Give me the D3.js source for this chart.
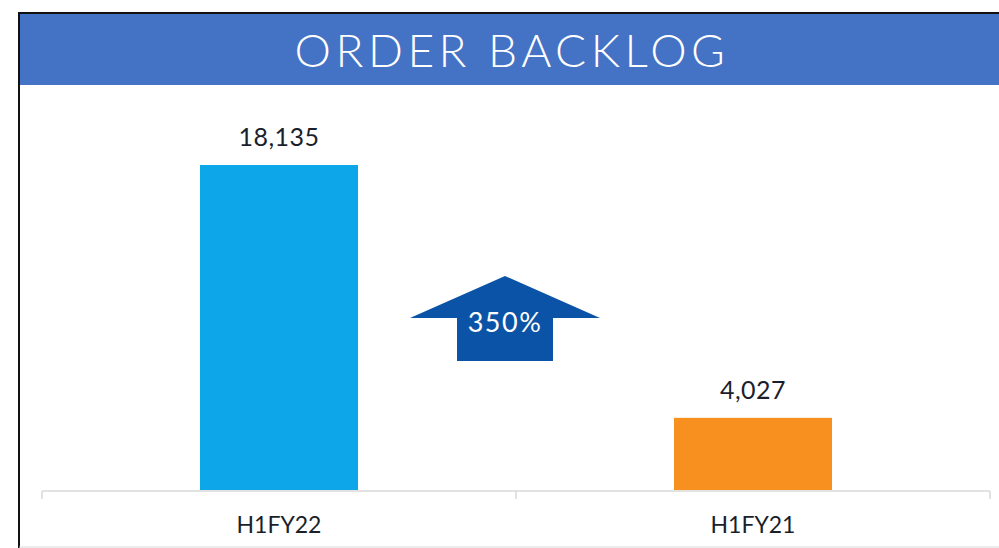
<!DOCTYPE html>
<html>
<head>
<meta charset="utf-8">
<script src="https://cdn.jsdelivr.net/npm/d3@7"></script>
<style>
  html, body { margin: 0; padding: 0; background: #fff; }
  svg { display: block; }
</style>
</head>
<body>
<div id="chart"></div>
<script>
// chart data
const categories = ["H1FY22", "H1FY21"];
const backlog = [18135, 4027];
const barColors = ["#0DA6E8", "#F7901E"];
const growthLabel = "350%";
const titleText = "ORDER BACKLOG";

const W = 999, H = 548;

const svg = d3.select("#chart").append("svg")
  .attr("width", W)
  .attr("height", H);

// frame
svg.append("rect")
  .attr("x", 19).attr("y", 13)
  .attr("width", W).attr("height", H)
  .attr("fill", "#fff")
  .attr("stroke", "#111")
  .attr("stroke-width", 2);

svg.append("line")
  .attr("x1", 19).attr("x2", W)
  .attr("y1", 547).attr("y2", 547)
  .attr("stroke", "#d9d9d9");

// header band
svg.append("rect")
  .attr("x", 20).attr("y", 14)
  .attr("width", W - 20).attr("height", 71)
  .attr("fill", "#4472C4");

svg.append("text")
  .attr("x", 512).attr("y", 67)
  .attr("text-anchor", "middle")
  .attr("fill", "#fff")
  .style("font-family", "Lato, 'Open Sans', sans-serif")
  .style("font-weight", 300)
  .style("font-size", "46px")
  .style("letter-spacing", "4.5px")
  .text(titleText);

// scales
const x = d3.scaleBand()
  .domain(categories)
  .range([42, 990])
  .paddingInner(2 / 3)
  .paddingOuter(1 / 3);

const y = d3.scaleLinear()
  .domain([0, 18135])
  .range([490, 165]);

// axis
const axis = svg.append("g")
  .attr("transform", "translate(0,491)");
axis.append("line")
  .attr("x1", 42).attr("x2", 990)
  .attr("stroke", "#d9d9d9").attr("stroke-width", 1.5);
const step = x.step();
axis.selectAll(".tick")
  .data(d3.range(categories.length + 1))
  .join("line")
  .attr("class", "tick")
  .attr("x1", i => 42 + i * step)
  .attr("x2", i => 42 + i * step)
  .attr("y1", 0).attr("y2", 8)
  .attr("stroke", "#d9d9d9").attr("stroke-width", 1.5);

axis.selectAll(".cat")
  .data(categories)
  .join("text")
  .attr("class", "cat")
  .attr("x", d => x(d) + x.bandwidth() / 2)
  .attr("y", 42)
  .attr("text-anchor", "middle")
  .attr("fill", "#1a1f2b")
  .style("font-family", "Lato, sans-serif")
  .style("font-size", "23px")
  .text(d => d);

// bars
const data = categories.map((c, i) => ({ cat: c, value: backlog[i], color: barColors[i] }));

svg.selectAll(".bar")
  .data(data)
  .join("rect")
  .attr("class", "bar")
  .attr("x", d => x(d.cat))
  .attr("y", d => y(d.value))
  .attr("width", x.bandwidth())
  .attr("height", d => y(0) - y(d.value))
  .attr("fill", d => d.color);

svg.selectAll(".val")
  .data(data)
  .join("text")
  .attr("class", "val")
  .attr("x", d => x(d.cat) + x.bandwidth() / 2)
  .attr("y", d => y(d.value) - 19)
  .attr("text-anchor", "middle")
  .attr("fill", "#1a1f2b")
  .style("font-family", "Lato, sans-serif")
  .style("font-size", "25px")
  .style("letter-spacing", "0.5px")
  .text(d => d3.format(",")(d.value));

// growth arrow between the bars (sits a little left of the gap centre)
const ax = (x(categories[0]) + x.bandwidth() + x(categories[1])) / 2 - 11;
const arrow = [
  [ax, 276], [ax + 95, 318], [ax + 48, 318], [ax + 48, 361],
  [ax - 48, 361], [ax - 48, 318], [ax - 95, 318]
];
svg.append("path")
  .attr("d", d3.line()(arrow) + "Z")
  .attr("fill", "#0B53A6");

svg.append("text")
  .attr("x", ax).attr("y", 332)
  .attr("text-anchor", "middle")
  .attr("fill", "#fff")
  .style("font-family", "Lato, sans-serif")
  .style("font-size", "27px")
  .style("letter-spacing", "1.5px")
  .text(growthLabel);
</script>
</body>
</html>
